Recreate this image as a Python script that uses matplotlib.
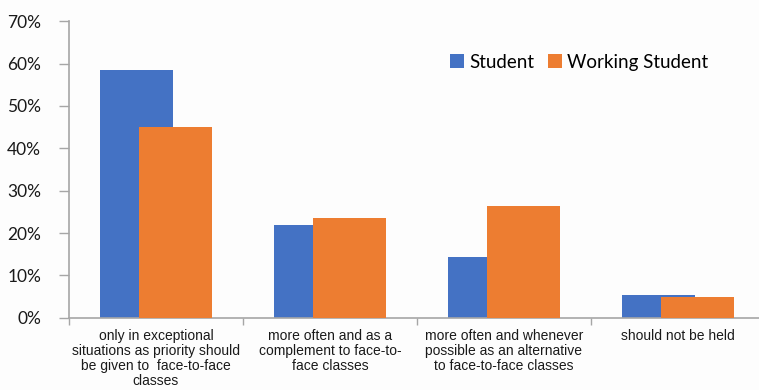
import matplotlib.pyplot as plt
import numpy as np

categories = [
    "only in exceptional\nsituations as priority should\nbe given to  face-to-face\nclasses",
    "more often and as a\ncomplement to face-to-\nface classes",
    "more often and whenever\npossible as an alternative\nto face-to-face classes",
    "should not be held",
]
student = [58.4, 21.9, 14.4, 5.4]
working_student = [45.0, 23.6, 26.4, 4.9]
yticks = [0, 10, 20, 30, 40, 50, 60, 70]
series_names = ["Student", "Working Student"]

blue = "#4472C4"
orange = "#ED7D31"
axis_gray = "#A6A6A6"

fig = plt.figure(figsize=(7.59, 3.90), dpi=100)
fig.patch.set_facecolor("#FDFDFD")
ax = fig.add_axes([0.0909, 0.1854, 0.917, 0.760])
ax.set_facecolor("#FDFDFD")

x = np.arange(len(categories))
width = 0.425
offset = 0.112
ax.bar(x - offset, student, width, color=blue, label=series_names[0], zorder=2)
ax.bar(x + offset, working_student, width, color=orange, label=series_names[1], zorder=3)

ax.set_xlim(-0.5, len(categories) - 0.5)
ax.set_ylim(0, 70)
ax.set_yticks(yticks)
ax.set_yticklabels([f"{v}%" for v in yticks], fontfamily="Lato", fontsize=12.5, color="#1a1a1a")

# category labels centred, tick marks at the category boundaries
ax.set_xticks(x)
ax.set_xticklabels(categories, fontfamily="Liberation Sans", fontsize=10, color="#1a1a1a",
                   linespacing=1.1)
ax.tick_params(axis="x", length=0, pad=8)
ax.set_xticks(np.arange(-0.5, len(categories) + 0.5, 1), minor=True)
ax.tick_params(axis="x", which="minor", length=5, color=axis_gray, width=1)
ax.tick_params(axis="y", length=7, color=axis_gray, width=1, pad=13)

for side in ["top", "right"]:
    ax.spines[side].set_visible(False)
for side in ["left", "bottom"]:
    ax.spines[side].set_color(axis_gray)
    ax.spines[side].set_linewidth(1.2)

fig.legend(loc="center left", bbox_to_anchor=(0.583, 0.84), ncol=2, frameon=False,
           prop={"family": "Lato", "size": 13.5}, handlelength=0.75, handleheight=0.75,
           handletextpad=0.3, columnspacing=0.7, borderaxespad=0)

fig.savefig("out.png", dpi=100, facecolor=fig.get_facecolor())
